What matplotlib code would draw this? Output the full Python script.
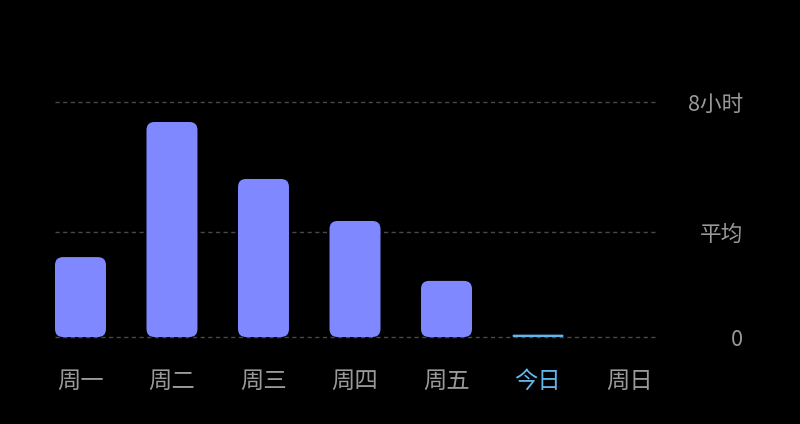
import numpy as np
import matplotlib.pyplot as plt
from matplotlib.patches import FancyBboxPatch

plt.rcParams['font.family'] = ['Noto Sans CJK SC', 'DejaVu Sans']

# datos: horas de uso por dia
dias = ['周一', '周二', '周三', '周四', '周五', '今日', '周日']
horas = [2.72, 7.32, 5.38, 3.95, 1.91, 0.08, 0.0]
hoy = 5
promedio = np.mean(horas[:6])
y_ticks = [0, promedio, 8]
y_labels = ['0', '平均', '8小时']

color_barra = '#7f88ff'
color_hoy = '#63b6ec'
color_texto = '#9a9a9a'
color_grid = '#484848'

fig = plt.figure(figsize=(8, 4.24), dpi=100, facecolor='black')
ax = fig.add_axes([0.06875, 0.2052, 0.75, 0.5542], facecolor='black')

x = np.arange(len(dias))
ancho = 0.557
ax.set_xlim(-ancho / 2, len(dias) - 1 + ancho / 2)
ax.set_ylim(0, 8)

# lineas de referencia
for t in y_ticks:
    ax.axhline(t, color=color_grid, lw=1, ls=(0, (3, 2.5)), zorder=1, clip_on=False)

# barras con esquinas redondeadas
px_x = (ax.get_xlim()[1] - ax.get_xlim()[0]) / 600.0
px_y = 8 / 235.0
for i, h in enumerate(horas):
    if h <= 0:
        continue
    c = color_hoy if i == hoy else color_barra
    r = min(8 * px_x, h / px_y * px_x / 2)
    p = FancyBboxPatch((x[i] - ancho / 2 + r, r * px_y / px_x), ancho - 2 * r,
                       max(h - 2 * r * px_y / px_x, 0),
                       boxstyle=f'round,pad={r}', mutation_aspect=px_y / px_x,
                       fc=c, ec='none', zorder=2)
    ax.add_patch(p)

ax.set_xticks([])
ax.set_yticks([])
for s in ax.spines.values():
    s.set_visible(False)

for i, d in enumerate(dias):
    ax.text(x[i], -1.5, d, ha='center', va='center', fontsize=16.8,
            color=color_hoy if i == hoy else color_texto)

for t, lab in zip(y_ticks, y_labels):
    ax.text(1.147, t - 0.1, lab, transform=ax.get_yaxis_transform(), ha='right',
            va='center', fontsize=15.6, color=color_texto)

plt.savefig('out.png', dpi=100, facecolor='black')
